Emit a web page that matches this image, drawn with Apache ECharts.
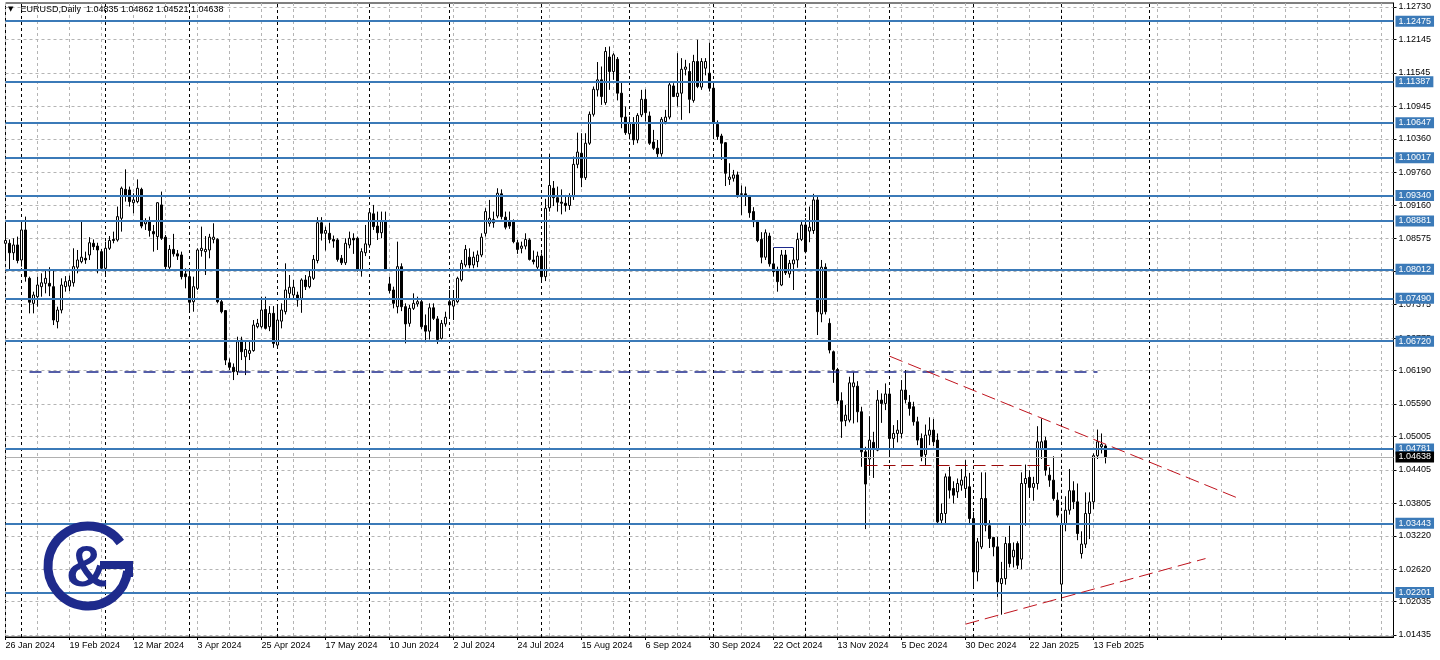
<!DOCTYPE html>
<html><head><meta charset="utf-8">
<script src="https://cdn.jsdelivr.net/npm/echarts@6/dist/echarts.min.js"></script>
<style>html,body{margin:0;padding:0;background:#fff;}#c{width:1440px;height:660px;}</style>
</head><body><div id="c"></div>
<script>
const headerText = 'EURUSD,Daily  1.04835 1.04862 1.04521 1.04638';
const dateLabels = ['26 Jan 2024','19 Feb 2024','12 Mar 2024','3 Apr 2024','25 Apr 2024','17 May 2024','10 Jun 2024','2 Jul 2024','24 Jul 2024','15 Aug 2024','6 Sep 2024','30 Sep 2024','22 Oct 2024','13 Nov 2024','5 Dec 2024','30 Dec 2024','22 Jan 2025','13 Feb 2025'];
const barsPerLabel = 16;
const barsPerGrid = 8;
const barCount = 348;
const priceTicks = [1.12730,1.12145,1.11545,1.10945,1.10360,1.09760,1.09160,1.08575,1.07975,1.07375,1.06775,1.06190,1.05590,1.05005,1.04405,1.03805,1.03220,1.02620,1.02035,1.01435];
const levels = [1.12475,1.11387,1.10647,1.10017,1.09340,1.08881,1.08012,1.07490,1.06720,1.04781,1.03443,1.02201];
const lastPrice = 1.04638;
const monthStarts = [4,25,46,68,91,111,134,156,177,200,221,242,264,286];
const trendUpper = [[221,1.0645],[308,1.0390]];
const trendLower = [[240,1.0163],[300,1.0281]];
const supportDash = [[6,1.06165],[273,1.06165]];
const redDash = [[215,1.0449],[261,1.0449]];
const navyShort = [[192,1.0840],[197,1.0840]];
// [open, close, low, high]
const candles = [
[1.0848,1.0853,1.0818,1.0886],[1.0848,1.0831,1.0800,1.0855],[1.0831,1.0845,1.0818,1.0857],[1.0845,1.0817,1.0812,1.0860],[1.0818,1.0872,1.0806,1.0887],
[1.0872,1.0788,1.0779,1.0896],[1.0785,1.0742,1.0722,1.0788],[1.0740,1.0755,1.0722,1.0761],[1.0752,1.0773,1.0734,1.0788],[1.0770,1.0777,1.0752,1.0794],
[1.0776,1.0785,1.0758,1.0799],[1.0776,1.0771,1.0753,1.0805],[1.0770,1.0710,1.0701,1.0799],[1.0707,1.0728,1.0695,1.0734],[1.0728,1.0773,1.0722,1.0785],
[1.0770,1.0779,1.0761,1.0789],[1.0771,1.0781,1.0762,1.0790],[1.0777,1.0806,1.0770,1.0839],[1.0805,1.0818,1.0794,1.0836],[1.0815,1.0823,1.0812,1.0887],
[1.0821,1.0818,1.0811,1.0833],[1.0827,1.0849,1.0818,1.0859],[1.0848,1.0842,1.0836,1.0855],[1.0843,1.0836,1.0794,1.0849],[1.0833,1.0803,1.0799,1.0838],
[1.0803,1.0839,1.0791,1.0851],[1.0839,1.0853,1.0836,1.0861],[1.0855,1.0853,1.0848,1.0869],[1.0854,1.0896,1.0851,1.0914],[1.0893,1.0947,1.0869,1.0950],
[1.0945,1.0935,1.0923,1.0981],[1.0944,1.0923,1.0914,1.0950],[1.0921,1.0926,1.0902,1.0938],[1.0923,1.0947,1.0920,1.0963],[1.0945,1.0879,1.0875,1.0948],
[1.0883,1.0887,1.0872,1.0893],[1.0889,1.0871,1.0860,1.0896],[1.0869,1.0865,1.0833,1.0881],[1.0860,1.0921,1.0836,1.0922],[1.0917,1.0857,1.0854,1.0941],
[1.0859,1.0806,1.0801,1.0863],[1.0805,1.0837,1.0800,1.0845],[1.0837,1.0829,1.0824,1.0865],[1.0829,1.0825,1.0818,1.0836],[1.0827,1.0788,1.0783,1.0833],
[1.0793,1.0788,1.0767,1.0803],[1.0788,1.0742,1.0725,1.0800],[1.0743,1.0770,1.0725,1.0788],[1.0767,1.0836,1.0764,1.0839],[1.0835,1.0839,1.0824,1.0878],
[1.0833,1.0837,1.0791,1.0861],[1.0836,1.0859,1.0821,1.0865],[1.0855,1.0859,1.0848,1.0884],[1.0855,1.0743,1.0740,1.0857],[1.0743,1.0725,1.0722,1.0746],
[1.0727,1.0638,1.0629,1.0728],[1.0633,1.0625,1.0620,1.0641],[1.0625,1.0617,1.0602,1.0632],[1.0617,1.0671,1.0611,1.0680],[1.0674,1.0653,1.0638,1.0680],
[1.0644,1.0657,1.0611,1.0671],[1.0650,1.0655,1.0638,1.0674],[1.0655,1.0701,1.0653,1.0710],[1.0698,1.0704,1.0695,1.0712],[1.0698,1.0728,1.0695,1.0752],
[1.0729,1.0695,1.0693,1.0752],[1.0698,1.0722,1.0690,1.0735],[1.0722,1.0668,1.0660,1.0735],[1.0665,1.0710,1.0660,1.0738],[1.0708,1.0728,1.0695,1.0740],
[1.0725,1.0764,1.0720,1.0812],[1.0758,1.0769,1.0749,1.0791],[1.0755,1.0769,1.0746,1.0782],[1.0755,1.0746,1.0734,1.0761],[1.0749,1.0782,1.0723,1.0785],
[1.0782,1.0770,1.0764,1.0791],[1.0770,1.0788,1.0767,1.0800],[1.0785,1.0819,1.0782,1.0827],[1.0817,1.0885,1.0812,1.0895],[1.0885,1.0866,1.0853,1.0895],
[1.0866,1.0871,1.0835,1.0878],[1.0866,1.0855,1.0848,1.0885],[1.0855,1.0852,1.0840,1.0862],[1.0854,1.0819,1.0815,1.0857],[1.0821,1.0813,1.0809,1.0827],
[1.0813,1.0848,1.0809,1.0857],[1.0845,1.0857,1.0839,1.0869],[1.0857,1.0854,1.0829,1.0866],[1.0857,1.0800,1.0797,1.0860],[1.0800,1.0833,1.0788,1.0839],
[1.0831,1.0847,1.0825,1.0881],[1.0845,1.0903,1.0840,1.0908],[1.0901,1.0878,1.0872,1.0917],[1.0879,1.0867,1.0854,1.0905],[1.0867,1.0887,1.0857,1.0905],
[1.0887,1.0800,1.0799,1.0905],[1.0775,1.0763,1.0758,1.0788],[1.0764,1.0740,1.0731,1.0770],[1.0734,1.0806,1.0722,1.0851],[1.0806,1.0734,1.0726,1.0812],
[1.0734,1.0703,1.0668,1.0740],[1.0704,1.0731,1.0698,1.0737],[1.0731,1.0740,1.0728,1.0758],[1.0739,1.0743,1.0734,1.0752],[1.0743,1.0698,1.0694,1.0749],
[1.0700,1.0690,1.0670,1.0720],[1.0690,1.0732,1.0675,1.0740],[1.0732,1.0713,1.0710,1.0740],[1.0712,1.0675,1.0667,1.0717],[1.0677,1.0704,1.0675,1.0710],
[1.0703,1.0715,1.0698,1.0725],[1.0743,1.0737,1.0712,1.0764],[1.0735,1.0745,1.0710,1.0764],[1.0743,1.0785,1.0740,1.0788],[1.0782,1.0812,1.0779,1.0818],
[1.0809,1.0837,1.0805,1.0845],[1.0823,1.0809,1.0803,1.0839],[1.0809,1.0823,1.0803,1.0833],[1.0815,1.0827,1.0805,1.0835],[1.0827,1.0859,1.0823,1.0866],
[1.0866,1.0905,1.0860,1.0911],[1.0884,1.0893,1.0878,1.0926],[1.0885,1.0891,1.0876,1.0905],[1.0897,1.0938,1.0893,1.0947],[1.0937,1.0896,1.0891,1.0945],
[1.0895,1.0877,1.0873,1.0905],[1.0887,1.0879,1.0874,1.0905],[1.0889,1.0851,1.0848,1.0891],[1.0849,1.0837,1.0829,1.0854],[1.0839,1.0843,1.0830,1.0851],
[1.0843,1.0855,1.0837,1.0866],[1.0854,1.0819,1.0817,1.0857],[1.0818,1.0815,1.0810,1.0835],[1.0805,1.0825,1.0801,1.0833],[1.0825,1.0788,1.0782,1.0830],
[1.0788,1.0911,1.0780,1.0928],[1.0912,1.0952,1.0905,1.1009],[1.0947,1.0930,1.0915,1.0960],[1.0930,1.0922,1.0905,1.0950],[1.0922,1.0920,1.0900,1.0945],
[1.0920,1.0916,1.0905,1.0935],[1.0916,1.0932,1.0908,1.0938],[1.0932,1.0990,1.0926,1.1004],[1.0990,1.1012,1.0983,1.1047],[1.1010,1.0966,1.0949,1.1046],
[1.0966,1.1028,1.0962,1.1046],[1.1028,1.1080,1.1025,1.1085],[1.1080,1.1125,1.1076,1.1130],[1.1124,1.1142,1.1112,1.1174],[1.1142,1.1112,1.1097,1.1166],
[1.1101,1.1193,1.1097,1.1201],[1.1183,1.1157,1.1124,1.1202],[1.1157,1.1187,1.1142,1.1190],[1.1179,1.1118,1.1105,1.1183],[1.1118,1.1075,1.1055,1.1139],
[1.1075,1.1047,1.1043,1.1094],[1.1045,1.1065,1.1035,1.1076],[1.1065,1.1034,1.1025,1.1075],[1.1034,1.1078,1.1028,1.1082],[1.1079,1.1107,1.1075,1.1124],
[1.1107,1.1083,1.1067,1.1125],[1.1077,1.1028,1.1025,1.1085],[1.1030,1.1019,1.1016,1.1052],[1.1019,1.1009,1.1001,1.1034],[1.1009,1.1071,1.1004,1.1075],
[1.1067,1.1075,1.1062,1.1088],[1.1075,1.1133,1.1071,1.1139],[1.1131,1.1112,1.1111,1.1136],[1.1112,1.1118,1.1094,1.1190],[1.1118,1.1161,1.1070,1.1181],
[1.1161,1.1165,1.1150,1.1178],[1.1157,1.1107,1.1082,1.1172],[1.1105,1.1175,1.1101,1.1187],[1.1175,1.1130,1.1127,1.1214],[1.1129,1.1175,1.1124,1.1181],
[1.1163,1.1175,1.1150,1.1181],[1.1154,1.1127,1.1121,1.1209],[1.1127,1.1064,1.1039,1.1133],[1.1062,1.1040,1.1034,1.1069],[1.1041,1.1028,1.0998,1.1045],
[1.1029,1.0974,1.0951,1.1030],[1.0963,1.0967,1.0953,1.0992],[1.0965,1.0971,1.0959,1.0980],[1.0971,1.0935,1.0930,1.0977],[1.0937,1.0936,1.0899,1.0952],
[1.0937,1.0935,1.0915,1.0950],[1.0932,1.0903,1.0894,1.0935],[1.0905,1.0887,1.0877,1.0913],[1.0887,1.0853,1.0850,1.0890],[1.0855,1.0823,1.0812,1.0868],
[1.0823,1.0867,1.0818,1.0873],[1.0861,1.0811,1.0806,1.0867],[1.0811,1.0797,1.0788,1.0840],[1.0799,1.0779,1.0761,1.0806],[1.0773,1.0827,1.0771,1.0836],
[1.0827,1.0795,1.0791,1.0836],[1.0793,1.0812,1.0786,1.0818],[1.0811,1.0818,1.0764,1.0840],[1.0818,1.0855,1.0804,1.0867],[1.0855,1.0881,1.0852,1.0890],
[1.0881,1.0833,1.0830,1.0893],[1.0870,1.0877,1.0850,1.0914],[1.0871,1.0926,1.0865,1.0937],[1.0926,1.0725,1.0683,1.0934],[1.0721,1.0805,1.0706,1.0818],
[1.0805,1.0725,1.0720,1.0812],[1.0704,1.0656,1.0650,1.0713],[1.0653,1.0621,1.0597,1.0655],[1.0621,1.0565,1.0558,1.0624],[1.0565,1.0528,1.0498,1.0580],
[1.0529,1.0539,1.0519,1.0557],[1.0530,1.0597,1.0526,1.0608],[1.0590,1.0597,1.0524,1.0616],[1.0591,1.0545,1.0526,1.0600],[1.0545,1.0473,1.0446,1.0554],
[1.0473,1.0415,1.0334,1.0482],[1.0460,1.0494,1.0430,1.0537],[1.0490,1.0478,1.0426,1.0509],[1.0476,1.0566,1.0474,1.0584],[1.0566,1.0560,1.0525,1.0578],
[1.0560,1.0577,1.0548,1.0596],[1.0577,1.0497,1.0469,1.0584],[1.0497,1.0506,1.0478,1.0521],[1.0506,1.0512,1.0490,1.0530],[1.0506,1.0584,1.0497,1.0602],
[1.0584,1.0567,1.0560,1.0620],[1.0562,1.0551,1.0538,1.0575],[1.0554,1.0527,1.0520,1.0563],[1.0527,1.0494,1.0485,1.0536],[1.0497,1.0465,1.0456,1.0506],
[1.0468,1.0503,1.0449,1.0522],[1.0503,1.0512,1.0485,1.0535],[1.0512,1.0491,1.0483,1.0532],[1.0494,1.0347,1.0343,1.0506],[1.0350,1.0362,1.0343,1.0380],
[1.0362,1.0428,1.0343,1.0434],[1.0428,1.0404,1.0389,1.0446],[1.0407,1.0395,1.0380,1.0420],[1.0401,1.0416,1.0390,1.0425],[1.0413,1.0422,1.0403,1.0442],
[1.0407,1.0428,1.0390,1.0458],[1.0410,1.0353,1.0345,1.0435],[1.0353,1.0257,1.0227,1.0365],[1.0257,1.0311,1.0240,1.0318],[1.0302,1.0389,1.0298,1.0436],
[1.0389,1.0341,1.0330,1.0436],[1.0340,1.0317,1.0300,1.0350],[1.0319,1.0302,1.0285,1.0320],[1.0302,1.0239,1.0212,1.0320],[1.0236,1.0245,1.0180,1.0275],
[1.0245,1.0308,1.0234,1.0320],[1.0308,1.0272,1.0265,1.0340],[1.0284,1.0296,1.0265,1.0310],[1.0308,1.0269,1.0262,1.0312],[1.0280,1.0416,1.0262,1.0436],
[1.0416,1.0425,1.0340,1.0450],[1.0427,1.0409,1.0390,1.0440],[1.0409,1.0416,1.0385,1.0428],[1.0416,1.0491,1.0405,1.0519],[1.0477,1.0491,1.0460,1.0533],
[1.0493,1.0440,1.0430,1.0500],[1.0431,1.0422,1.0410,1.0445],[1.0422,1.0389,1.0385,1.0465],[1.0386,1.0359,1.0355,1.0400],[1.0235,1.0344,1.0209,1.0360],
[1.0344,1.0368,1.0330,1.0393],[1.0368,1.0403,1.0360,1.0442],[1.0403,1.0383,1.0370,1.0420],[1.0383,1.0326,1.0314,1.0416],[1.0290,1.0307,1.0281,1.0330],
[1.0307,1.0362,1.0300,1.0400],[1.0362,1.0383,1.0316,1.0400],[1.0383,1.0466,1.0370,1.0470],[1.0466,1.0491,1.0460,1.0513],[1.0482,1.0486,1.0470,1.0506],
[1.04835,1.04638,1.04521,1.04862]
];

const FONT = '"Liberation Sans", Arial, sans-serif';
const BLUE = '#3b7ab8';
const NAVY = '#1e2a8c';
const GRIDC = '#b4b4b4';
const categories = Array.from({length: barCount}, (_, i) => String(i));
const fmt = v => Number(v).toFixed(5);
const segment = (pts, style) => [
  {coord: pts[0], lineStyle: style, label: {show: false}},
  {coord: pts[1]}
];
const boxLabel = (v, bg) => ({show: true, position: 'end', distance: 2, formatter: fmt(v), backgroundColor: bg, color: '#fff',
  fontSize: 9, fontFamily: FONT, lineHeight: 10, padding: [1, 3, 0, 3]});

const chart = echarts.init(document.getElementById('c'), null, {renderer: 'canvas'});
chart.setOption({
  animation: false,
  backgroundColor: '#ffffff',
  title: {
    text: '{t|▼}' + headerText,
    left: 4, top: 5, padding: 0,
    textStyle: {fontSize: 9, fontWeight: 'normal', fontFamily: FONT, color: '#000',
      rich: {t: {fontSize: 7, padding: [0, 7, 0, 4], fontFamily: 'DejaVu Sans', color: '#000'}}}
  },
  grid: {left: 5.5, right: 46.5, top: 3, bottom: 23, show: true, borderColor: '#000', borderWidth: 1, backgroundColor: 'transparent'},
  xAxis: {
    type: 'category', data: categories, boundaryGap: false,
    axisLine: {show: true, lineStyle: {color: '#000', width: 1}},
    axisTick: {show: true, interval: barsPerLabel - 1, length: 3, lineStyle: {color: '#000'}},
    axisLabel: {interval: barsPerLabel - 1, align: 'left', margin: 4, fontSize: 9, fontFamily: FONT, color: '#000',
      formatter: (v, i) => dateLabels[i / barsPerLabel] || ''},
    splitLine: {show: true, interval: barsPerGrid - 1, lineStyle: {color: GRIDC, type: [3, 3], width: 1}}
  },
  yAxis: {
    type: 'value', position: 'right', min: 1.01399, max: 1.12802,
    splitLine: {show: false},
    axisLine: {show: true, lineStyle: {color: '#000', width: 1}},
    axisTick: {show: true, length: 3, customValues: priceTicks, lineStyle: {color: '#000'}},
    axisLabel: {customValues: priceTicks, formatter: fmt, margin: 5, fontSize: 9, fontFamily: FONT, color: '#000'}
  },
  graphic: [
    {type: 'arc', shape: {cx: 88, cy: 566, r: 40, startAngle: Math.PI * 0.04, endAngle: Math.PI * 1.80, clockwise: true},
      style: {stroke: NAVY, lineWidth: 9, fill: 'none'}, z: 10},
    {type: 'rect', shape: {x: 100, y: 561, width: 33, height: 8}, style: {fill: NAVY}, z: 10},
    {type: 'rect', shape: {x: 125, y: 561, width: 8, height: 16}, style: {fill: NAVY}, z: 10},
    {type: 'text', style: {text: '&', x: 87, y: 570, align: 'center', verticalAlign: 'middle', font: 'bold 58px "Liberation Sans"', fill: NAVY}, z: 10}
  ],
  series: [
    {
      name: 'grid', type: 'line', data: candles.map(c => c[1]), showSymbol: false, silent: true, z: 1,
      lineStyle: {opacity: 0},
      markLine: {
        silent: true, symbol: ['none', 'none'], z: 1, precision: 5, animation: false, label: {show: false},
        data: [
          ...priceTicks.map(v => ({yAxis: v, lineStyle: {color: GRIDC, type: [3, 3], width: 1}})),
          ...monthStarts.map(i => ({xAxis: i, lineStyle: {color: '#000', type: [3, 3], width: 1}}))
        ]
      }
    },
    {
      name: 'EURUSD', type: 'candlestick', data: candles, barWidth: 3, clip: false, z: 3,
      itemStyle: {color: '#ffffff', color0: '#000000', borderColor: '#000000', borderColor0: '#000000', borderWidth: 1},
      markLine: {
        silent: true, symbol: ['none', 'none'], z: 5, precision: 5, animation: false,
        data: [
          ...levels.map(v => ({yAxis: v, lineStyle: {color: BLUE, width: 2, type: 'solid'}, label: boxLabel(v, BLUE)})),
          {yAxis: lastPrice, lineStyle: {color: '#b0b0b0', width: 1, type: 'solid'}, label: boxLabel(lastPrice, '#000')},
          segment(supportDash, {color: NAVY, width: 1.5, type: [12, 7]}),
          segment(redDash, {color: '#9a0a0a', width: 1, type: [12, 6]}),
          segment(navyShort, {color: NAVY, width: 1, type: 'solid'}),
          segment(trendUpper, {color: '#c0141e', width: 1, type: [14, 6]}),
          segment(trendLower, {color: '#c0141e', width: 1, type: [14, 6]})
        ]
      }
    }
  ]
});
</script>
</body></html>
